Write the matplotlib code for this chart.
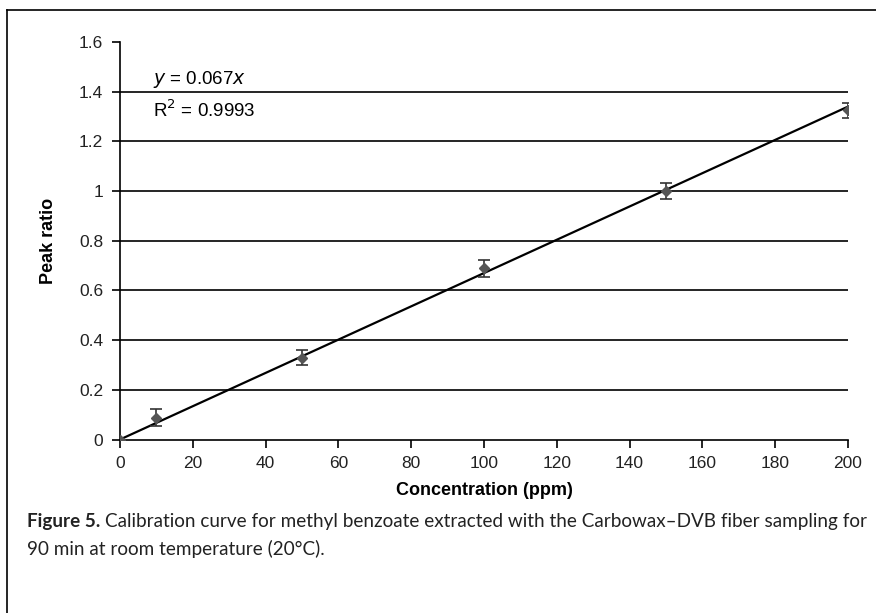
import matplotlib
matplotlib.use('Agg')
import matplotlib.pyplot as plt
from matplotlib.lines import Line2D

conc = [0, 10, 50, 100, 150, 200]
peak_ratio = [0.0, 0.088, 0.33, 0.69, 1.0, 1.325]
err = [0.0, 0.034, 0.03, 0.034, 0.032, 0.03]
slope = 0.0067

x_ticks = [0, 20, 40, 60, 80, 100, 120, 140, 160, 180, 200]
y_ticks = [0, 0.2, 0.4, 0.6, 0.8, 1.0, 1.2, 1.4, 1.6]
y_labels = ['0', '0.2', '0.4', '0.6', '0.8', '1', '1.2', '1.4', '1.6']

caption_bold = 'Figure 5.'
caption_1 = 'Calibration curve for methyl benzoate extracted with the Carbowax\u2013DVB fiber sampling for'
caption_2 = '90 min at room temperature (20\u00b0C).'

plt.rcParams['font.family'] = ['Liberation Sans', 'DejaVu Sans']

fig = plt.figure(figsize=(8.76, 6.13), dpi=100)
W, H = 876, 613
ax = fig.add_axes([120 / W, 1 - 439.5 / H, (848 - 120) / W, (439.5 - 42) / H])

for yv in y_ticks[1:-1]:
    ax.axhline(yv, color='black', lw=1.2, zorder=1)

ax.plot([0, 200], [0, slope * 200], color='black', lw=1.6, zorder=2)
ax.errorbar(conc, peak_ratio, yerr=err, fmt='D', color='#555555', ms=5.5,
            ecolor='#333333', elinewidth=1.2, capsize=4, capthick=1.2, zorder=3)

ax.set_xlim(0, 200)
ax.set_ylim(0, 1.6)
ax.set_xticks(x_ticks)
ax.set_yticks(y_ticks)
ax.set_yticklabels(y_labels)
ax.spines['top'].set_visible(False)
ax.spines['right'].set_visible(False)
ax.spines['left'].set_linewidth(1.2)
ax.spines['bottom'].set_linewidth(1.2)
ax.tick_params(direction='out', length=6, width=1.2, labelsize=12.5, pad=6,
               colors='black', labelcolor='#222222')
ax.set_xlabel('Concentration (ppm)', fontsize=13, fontweight='bold', labelpad=8)
ax.set_ylabel('Peak ratio', fontsize=13, fontweight='bold', labelpad=16)

ax.text(0.045, 0.905, '$\\it{y}$ = 0.067$\\it{x}$', transform=ax.transAxes, fontsize=13.5,
        va='center')
ax.text(0.045, 0.828, 'R$^2$ = 0.9993', transform=ax.transAxes, fontsize=13.5, va='center')

# outer frame (left and top edges visible)
fig.add_artist(Line2D([7 / W, 7 / W], [0, 1 - 10 / H], color='black', lw=1.2))
fig.add_artist(Line2D([7 / W, 1], [1 - 10 / H, 1 - 10 / H], color='black', lw=1.2))

# caption: fit first line between x=27 and x=862
cap_font = ['Lato', 'DejaVu Sans']
fig.canvas.draw()
r = fig.canvas.get_renderer()
fs = 14
t1 = fig.text(27 / W, 1 - 522 / H, caption_bold, fontsize=fs, fontweight='bold',
              family=cap_font, va='center', color='#222222')
t2 = fig.text(0, 1 - 522 / H, caption_1, fontsize=fs, family=cap_font, va='center', color='#222222')
for _ in range(3):
    bb = t1.get_window_extent(r)
    t2.set_x((bb.x1 + 5) / W)
    end = t2.get_window_extent(r).x1
    fs = fs * (862 - 27) / (end - 27)
    t1.set_fontsize(fs)
    t2.set_fontsize(fs)
bb = t1.get_window_extent(r)
t2.set_x((bb.x1 + 5) / W)
fig.text(27 / W, 1 - 549 / H, caption_2, fontsize=fs, family=cap_font, va='center', color='#222222')

fig.savefig('out.png', dpi=100)
